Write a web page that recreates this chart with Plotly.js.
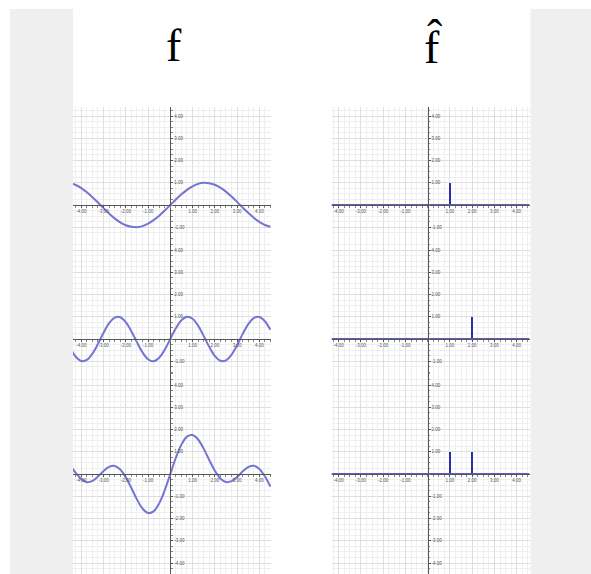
<!DOCTYPE html>
<html><head><meta charset="utf-8">
<script src="https://cdn.plot.ly/plotly-3.0.1.min.js"></script>
<style>html,body{margin:0;padding:0;background:#fff}#chart{width:591px;height:574px}</style>
</head><body><div id="chart"></div>
<script>
// ---- data ----
const xSample = [-4.5,-4.25,-4,-3.75,-3.5,-3.25,-3,-2.75,-2.5,-2.25,-2,-1.75,-1.5,-1.25,-1,-0.75,-0.5,-0.25,0,0.25,0.5,0.75,1,1.25,1.5,1.75,2,2.25,2.5,2.75,3,3.25,3.5,3.75,4,4.25,4.5];
const fRow1 = [0.98,0.90,0.76,0.57,0.35,0.11,-0.14,-0.38,-0.60,-0.78,-0.91,-0.98,-1.00,-0.95,-0.84,-0.68,-0.48,-0.25,0,0.25,0.48,0.68,0.84,0.95,1.00,0.98,0.91,0.78,0.60,0.38,0.14,-0.11,-0.35,-0.57,-0.76,-0.90,-0.98];
const fRow2 = [-0.41,-0.80,-0.99,-0.94,-0.66,-0.22,0.28,0.71,0.96,0.98,0.76,0.35,-0.14,-0.60,-0.91,-1.00,-0.84,-0.48,0,0.48,0.84,1.00,0.91,0.60,0.14,-0.35,-0.76,-0.98,-0.96,-0.71,-0.28,0.22,0.66,0.94,0.99,0.80,0.41];
const fRow3 = [0.40,0.05,-0.23,-0.37,-0.31,-0.11,0.14,0.32,0.36,0.20,-0.15,-0.63,-1.14,-1.55,-1.75,-1.68,-1.32,-0.73,0,0.73,1.32,1.68,1.75,1.55,1.14,0.63,0.15,-0.20,-0.36,-0.32,-0.14,0.11,0.31,0.37,0.23,-0.10,-0.57];
const hatFreq1 = [1],   hatAmp1 = [1];
const hatFreq2 = [2],   hatAmp2 = [1];
const hatFreq3 = [1,2], hatAmp3 = [1,1];
const tickVals = [-4,-3,-2,-1,1,2,3,4];
const tickText = ['-4.00','-3.00','-2.00','-1.00','1.00','2.00','3.00','4.00'];
const titleLeft = 'f';
const titleRight = 'f\u0302';

// ---- layout geometry (pixels) ----
const W = 591, H = 574, U = 22.25;
const cols = [{l:73, r:271, z:170.3}, {l:331.5, r:529.5, z:427.7}];
const rows = [{t:107, b:238, z:205}, {t:238, b:373, z:339}, {t:373, b:574, z:474}];

const curveColor = '#7474d2', spikeColor = '#2c2ca6', baseColor = '#5c5cc8';
const leftSeries = [fRow1, fRow2, fRow3];
const hatSeries = [[hatFreq1, hatAmp1], [hatFreq2, hatAmp2], [hatFreq3, hatAmp3]];

const traces = [];
const layout = {
  width: W, height: H, margin: {l:0, r:0, t:0, b:0},
  paper_bgcolor: '#ffffff', plot_bgcolor: '#ffffff',
  showlegend: false, bargap: 0,
  shapes: [
    {type:'rect', xref:'paper', yref:'paper', x0:10/W, x1:73/W, y0:0, y1:1-9/H, fillcolor:'#efefef', line:{width:0}, layer:'below'},
    {type:'rect', xref:'paper', yref:'paper', x0:530.5/W, x1:1, y0:0, y1:1-9/H, fillcolor:'#efefef', line:{width:0}, layer:'below'}
  ],
  annotations: [
    {xref:'paper', yref:'paper', x:173.5/W, y:1-45.5/H, text:titleLeft, showarrow:false, xanchor:'center', yanchor:'middle', font:{family:'Liberation Serif', size:46, color:'#000'}},
    {xref:'paper', yref:'paper', x:433/W, y:1-46/H, text:titleRight, showarrow:false, xanchor:'center', yanchor:'middle', font:{family:'Liberation Serif', size:46, color:'#000'}}
  ]
};

const tickFont = {family:'Liberation Sans', size:4.5, color:'#555'};
let n = 0;
rows.forEach((row, ri) => {
  cols.forEach((col, ci) => {
    n++;
    const xs = n === 1 ? '' : String(n);
    const xr = [(col.l - col.z)/U, (col.r - col.z)/U];
    const yr = [-(row.b - row.z)/U, (row.z - row.t)/U];
    const xd = [col.l/W, col.r/W];
    const yd = [1 - row.b/H, 1 - row.t/H];
    const xPos = yd[0] + (0 - yr[0])/(yr[1]-yr[0])*(yd[1]-yd[0]);
    const yPos = xd[0] + (0 - xr[0])/(xr[1]-xr[0])*(xd[1]-xd[0]);
    const common = {
      showline:true, linecolor:'#555', linewidth:1,
      tickmode:'array', tickvals:tickVals, ticktext:tickText, tickfont:tickFont,
      ticks:'outside', ticklen:2, tickcolor:'#555', tickwidth:1,
      showgrid:true, gridcolor:'#dedede', gridwidth:1, zeroline:false,
      minor:{dtick:0.25, tick0:0, showgrid:true, gridcolor:'#efefef', gridwidth:1, ticks:'outside', ticklen:1.5, tickcolor:'#888'},
      fixedrange:true
    };
    layout['xaxis'+xs] = Object.assign({domain: xd, range: xr, anchor:'free', position: xPos, side:'bottom'}, common);
    layout['yaxis'+xs] = Object.assign({domain: yd, range: yr, anchor:'free', position: yPos, side:'right'}, common);
    if (ci === 0) {
      traces.push({type:'scatter', mode:'lines', x:xSample, y:leftSeries[ri], xaxis:'x'+xs, yaxis:'y'+xs,
        line:{color:curveColor, width:2, shape:'spline', smoothing:1}, hoverinfo:'skip'});
    } else {
      traces.push({type:'scatter', mode:'lines', x:xr, y:[0,0], xaxis:'x'+xs, yaxis:'y'+xs,
        line:{color:baseColor, width:2}, hoverinfo:'skip'});
      traces.push({type:'bar', x:hatSeries[ri][0], y:hatSeries[ri][1], width:0.09, xaxis:'x'+xs, yaxis:'y'+xs,
        marker:{color:spikeColor, line:{width:0}}, hoverinfo:'skip'});
    }
  });
});

Plotly.newPlot('chart', traces, layout, {displayModeBar:false, staticPlot:true});
</script>
</body></html>
